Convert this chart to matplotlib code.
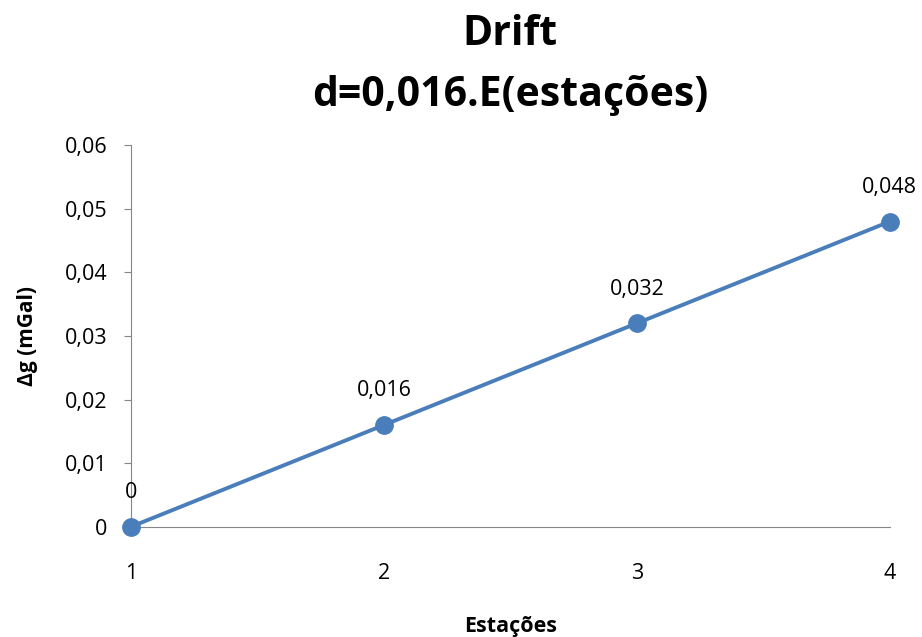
import matplotlib.pyplot as plt

plt.rcParams['font.family'] = ['Open Sans', 'DejaVu Sans']

estacoes = [1, 2, 3, 4]
drift = [0, 0.016, 0.032, 0.048]
rotulos = ['0', '0,016', '0,032', '0,048']
yticks = [0, 0.01, 0.02, 0.03, 0.04, 0.05, 0.06]
ytick_labels = ['0', '0,01', '0,02', '0,03', '0,04', '0,05', '0,06']

cor = '#4a7ebb'

fig = plt.figure(figsize=(9.22, 6.37), dpi=100)
ax = fig.add_axes([0.142, 0.173, 0.823, 0.599])

ax.plot(estacoes, drift, color=cor, linewidth=2.8, marker='o', markersize=12.5, clip_on=False, zorder=3)

for x, y, t in zip(estacoes, drift, rotulos):
    ax.annotate(t, (x, y), xytext=(0, 17), textcoords='offset points',
                ha='center', va='bottom', fontsize=15.5)

ax.set_xlim(1, 4)
ax.set_ylim(0, 0.06)
ax.set_xticks(estacoes)
ax.set_xticklabels([str(e) for e in estacoes])
ax.set_yticks(yticks)
ax.set_yticklabels(ytick_labels)
ax.tick_params(axis='y', labelsize=15.5, length=5, color='#868686', pad=12)
ax.tick_params(axis='x', labelsize=15.5, length=0, pad=26)

for s in ['top', 'right']:
    ax.spines[s].set_visible(False)
for s in ['left', 'bottom']:
    ax.spines[s].set_color('#868686')

ax.set_xlabel('Estações', fontsize=15.5, fontweight='bold', labelpad=23)
ax.set_ylabel('Δg (mGal)', fontsize=15, fontweight='bold', labelpad=19)
ax.set_title('Drift\nd=0,016.E(estações)', fontsize=29.5, fontweight='bold', pad=28, linespacing=1.65)

fig.savefig('out.png', dpi=100)
